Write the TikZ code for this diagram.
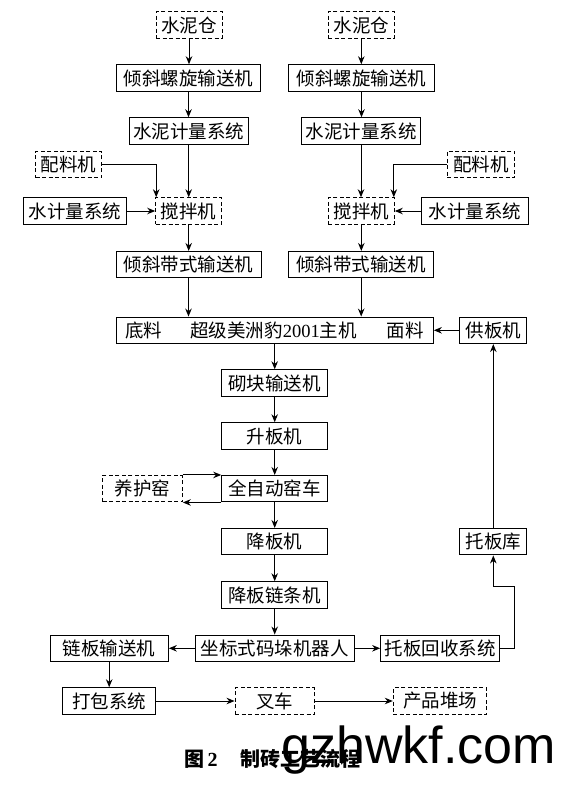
\documentclass[tikz,border=0pt]{standalone}
\usepackage{fontspec}
\setmainfont{Liberation Serif}
\newfontfamily\cjk{Noto Sans CJK SC}
\newfontfamily\wmfont{Liberation Sans}
\usetikzlibrary{arrows.meta}
\begin{document}
\begin{tikzpicture}[x=1pt,y=-1pt,
  box/.style={draw, line width=1pt, minimum height=26.5pt, inner sep=0pt,
    font=\cjk\fontsize{18.5}{20}\selectfont},
  dbox/.style={box, dash pattern=on 4pt off 2.5pt},
  arr/.style={line width=1pt, -{Stealth[length=8pt,width=6.5pt]}},
  captext/.style={inner sep=0pt, font=\cjk\bfseries\fontsize{20}{22}\selectfont}]
\useasboundingbox (0,0) rectangle (567,797);
% left column
\node[dbox, minimum width=66pt] (cemL) at (189,25) {水泥仓};
\node[box, minimum width=144pt] (screwL) at (188.5,78) {倾斜螺旋输送机};
\node[box, minimum width=119pt] (measL) at (188.7,131) {水泥计量系统};
\node[dbox, minimum width=66pt] (peiL) at (68.7,164.5) {配料机};
\node[box, minimum width=103.5pt] (waterL) at (75,211) {水计量系统};
\node[dbox, minimum width=66pt] (mixL) at (188.7,211) {搅拌机};
\node[box, minimum width=145pt] (beltL) at (188.5,264.7) {倾斜带式输送机};
% right column
\node[dbox, minimum width=66pt] (cemR) at (361.3,25) {水泥仓};
\node[box, minimum width=146pt] (screwR) at (361.5,78) {倾斜螺旋输送机};
\node[box, minimum width=118.5pt] (measR) at (361,131) {水泥计量系统};
\node[dbox, minimum width=67.5pt] (peiR) at (481.2,164.5) {配料机};
\node[box, minimum width=106.5pt] (waterR) at (475,211) {水计量系统};
\node[dbox, minimum width=66pt] (mixR) at (361.3,211) {搅拌机};
\node[box, minimum width=145.5pt] (beltR) at (361.2,264.7) {倾斜带式输送机};
% main
\node[box, minimum width=317.3pt] (main) at (274.7,330.3)
  {底料\hspace{28pt}超级美洲豹{\rmfamily 2001}主机\hspace{30pt}面料};
\node[box, minimum width=66.7pt] (gong) at (493.3,330.3) {供板机};
\node[box, minimum width=106pt] (qikuai) at (274.7,383) {砌块输送机};
\node[box, minimum width=106pt] (sheng) at (274.7,436) {升板机};
\node[box, minimum width=106pt] (kiln) at (274.7,488.7) {全自动窑车};
\node[dbox, minimum width=79.6pt] (yang) at (142.5,488.7) {养护窑};
\node[box, minimum width=106pt] (jiang) at (274.7,541.7) {降板机};
\node[box, minimum width=106pt] (chain) at (274.7,595) {降板链条机};
\node[box, minimum width=159pt] (robot) at (274.5,648.3) {坐标式码垛机器人};
\node[box, minimum width=118.3pt] (lian) at (109.2,648.3) {链板输送机};
\node[box, minimum width=119.3pt] (recyc) at (440.3,648.3) {托板回收系统};
\node[box, minimum width=66.7pt] (tuo) at (493.3,541.7) {托板库};
\node[box, minimum width=93.3pt] (pack) at (109.3,701) {打包系统};
\node[dbox, minimum width=79.3pt] (fork) at (274.7,701) {叉车};
\node[dbox, minimum width=93.4pt] (yard) at (440,701) {产品堆场};
% connectors left
\draw[arr] (cemL.south) -- (cemL.south |- screwL.north);
\draw[arr] (screwL.south) -- (screwL.south |- measL.north);
\draw[arr] (measL.south) -- (measL.south |- mixL.north);
\draw[arr] (peiL.east) -| ([xshift=1pt]mixL.north west);
\draw[arr] (waterL.east) -- (mixL.west);
\draw[arr] (mixL.south) -- (mixL.south |- beltL.north);
\draw[arr] (beltL.south) -- (beltL.south |- main.north);
% connectors right
\draw[arr] (cemR.south) -- (cemR.south |- screwR.north);
\draw[arr] (screwR.south) -- (screwR.south |- measR.north);
\draw[arr] (measR.south) -- (measR.south |- mixR.north);
\draw[arr] (peiR.west) -| ([xshift=-1pt]mixR.north east);
\draw[arr] (waterR.west) -- (mixR.east);
\draw[arr] (mixR.south) -- (mixR.south |- beltR.north);
\draw[arr] (beltR.south) -- (beltR.south |- main.north);
% middle
\draw[arr] (gong.west) -- (main.east);
\draw[arr] (main.south) -- (qikuai.north);
\draw[arr] (qikuai.south) -- (sheng.north);
\draw[arr] (sheng.south) -- (kiln.north);
\draw[arr] (yang.north east) -- (kiln.north west);
\draw[arr] (kiln.south west) -- (yang.south east);
\draw[arr] (kiln.south) -- (jiang.north);
\draw[arr] (jiang.south) -- (chain.north);
\draw[arr] (chain.south) -- (chain.south |- robot.north);
\draw[arr] (robot.west) -- (lian.east);
\draw[arr] (robot.east) -- (recyc.west);
\draw[arr] (lian.south) -- (lian.south |- pack.north);
\draw[arr] (pack.east) -- (fork.west);
\draw[arr] (fork.east) -- (yard.west);
\coordinate (r1) at (514.3,586);
\draw[arr] (recyc.east) -| (r1) -| (tuo.south);
\draw[arr] (tuo.north) -- (gong.south);
% caption
\node[captext, anchor=west] (c1) at (184,759) {图\,{\rmfamily\bfseries 2}};
\node[captext, anchor=west] (c2) at (240,759) {制砖工艺流程};
\node[anchor=base west, inner sep=0pt, font=\wmfont\fontsize{52}{52}\selectfont] (wm) at (281,763) {gzhwkf.com};
\end{tikzpicture}
\end{document}
